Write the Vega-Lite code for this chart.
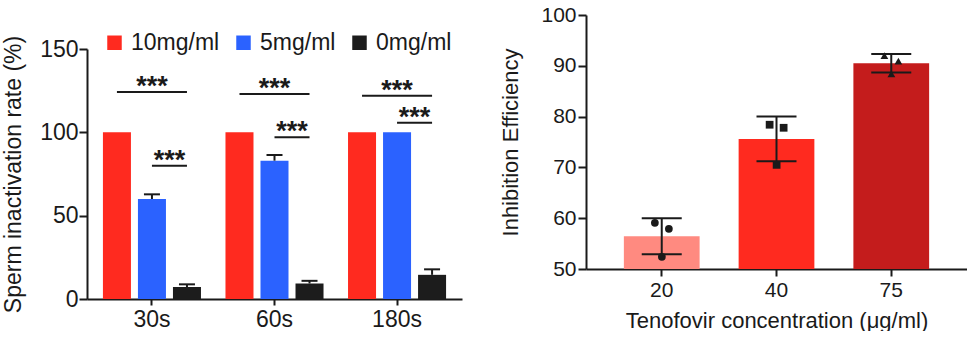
{
  "$schema": "https://vega.github.io/schema/vega-lite/v6.json",
  "padding": {"left": 2, "top": 4, "right": 0, "bottom": 0},
  "background": "white",
  "spacing": 37,
  "resolve": {"scale": {"color": "independent", "shape": "independent", "xOffset": "independent"}, "legend": {"color": "independent", "shape": "independent"}},
  "config": {
    "view": {"stroke": null},
    "font": "Liberation Sans",
    "axis": {"domainColor": "#1a1a1a", "domainWidth": 2, "tickColor": "#1a1a1a", "tickWidth": 2, "tickSize": 8, "grid": false, "labelColor": "#1a1a1a", "titleColor": "#1a1a1a", "labelFont": "Liberation Sans", "titleFont": "Liberation Sans", "titleFontWeight": "normal"}
  },
  "datasets": {
    "left": [
      {"time": "30s", "conc": "10mg/ml", "value": 100},
      {"time": "30s", "conc": "5mg/ml", "value": 60, "upper": 62.8},
      {"time": "30s", "conc": "0mg/ml", "value": 7.2, "upper": 8.8},
      {"time": "60s", "conc": "10mg/ml", "value": 100},
      {"time": "60s", "conc": "5mg/ml", "value": 83, "upper": 86.4},
      {"time": "60s", "conc": "0mg/ml", "value": 9.3, "upper": 10.9},
      {"time": "180s", "conc": "10mg/ml", "value": 100},
      {"time": "180s", "conc": "5mg/ml", "value": 100},
      {"time": "180s", "conc": "0mg/ml", "value": 14.5, "upper": 17.8}
    ],
    "brackets": [
      {"id": "30a", "time": "30s", "conc": "10mg/ml", "level": 124.2},
      {"id": "30a", "time": "30s", "conc": "0mg/ml", "level": 124.2},
      {"id": "30b", "time": "30s", "conc": "5mg/ml", "level": 80},
      {"id": "30b", "time": "30s", "conc": "0mg/ml", "level": 80},
      {"id": "60a", "time": "60s", "conc": "10mg/ml", "level": 123},
      {"id": "60a", "time": "60s", "conc": "0mg/ml", "level": 123},
      {"id": "60b", "time": "60s", "conc": "5mg/ml", "level": 97},
      {"id": "60b", "time": "60s", "conc": "0mg/ml", "level": 97},
      {"id": "180a", "time": "180s", "conc": "10mg/ml", "level": 122},
      {"id": "180a", "time": "180s", "conc": "0mg/ml", "level": 122},
      {"id": "180b", "time": "180s", "conc": "5mg/ml", "level": 105.8},
      {"id": "180b", "time": "180s", "conc": "0mg/ml", "level": 105.8}
    ],
    "starsTop": [
      {"time": "30s", "conc": "5mg/ml", "level": 124.2, "label": "***"},
      {"time": "60s", "conc": "5mg/ml", "level": 123, "label": "***"},
      {"time": "180s", "conc": "5mg/ml", "level": 122, "label": "***"}
    ],
    "starsLow": [
      {"time": "30s", "conc": "0mg/ml", "level": 80, "label": "***"},
      {"time": "60s", "conc": "0mg/ml", "level": 97, "label": "***"},
      {"time": "180s", "conc": "0mg/ml", "level": 105.8, "label": "***"}
    ],
    "rbars": [
      {"conc": "20", "mean": 56.45, "lo": 52.9, "hi": 60.0},
      {"conc": "40", "mean": 75.6, "lo": 71.2, "hi": 80.0},
      {"conc": "75", "mean": 90.5, "lo": 88.7, "hi": 92.3}
    ],
    "rpoints": [
      {"conc": "20", "value": 59.1, "jit": -1},
      {"conc": "20", "value": 57.9, "jit": 1},
      {"conc": "20", "value": 52.4, "jit": 0},
      {"conc": "40", "value": 78.4, "jit": -1},
      {"conc": "40", "value": 77.8, "jit": 1},
      {"conc": "40", "value": 70.5, "jit": 0},
      {"conc": "75", "value": 92.0, "jit": -1},
      {"conc": "75", "value": 90.9, "jit": 1},
      {"conc": "75", "value": 88.4, "jit": 0}
    ]
  },
  "hconcat": [
    {
      "width": 375,
      "height": 284,
      "layer": [
        {
          "data": {"name": "left"},
          "mark": {"type": "bar"},
          "encoding": {
            "x": {"field": "time", "type": "nominal", "sort": ["30s", "60s", "180s"], "scale": {"domain": ["30s", "60s", "180s"], "paddingInner": 0.2, "paddingOuter": 0.13}, "axis": {"title": null, "labelAngle": 0, "labelFontSize": 23, "labelPadding": 3, "tickSize": 6}},
            "xOffset": {"field": "conc", "type": "nominal", "scale": {"domain": ["10mg/ml", "5mg/ml", "0mg/ml"], "paddingInner": 0.2, "paddingOuter": 0}},
            "y": {"field": "value", "type": "quantitative", "scale": {"domain": [0, 150], "range": [284, 34], "nice": false}, "axis": {"values": [0, 50, 100, 150], "title": "Sperm inactivation rate (%)", "titleFontSize": 23, "labelFontSize": 23, "labelPadding": 1, "titlePadding": 14}},
            "color": {"field": "conc", "type": "nominal", "scale": {"domain": ["10mg/ml", "5mg/ml", "0mg/ml"], "range": ["#ff2a1f", "#2b62ff", "#1c1c1c"]}, "legend": {"title": null, "orient": "top-left", "direction": "horizontal", "offset": 16, "symbolType": "square", "symbolSize": 210, "labelFontSize": 23, "labelColor": "#1a1a1a", "columnPadding": 12, "labelOffset": 5, "padding": 0, "symbolStrokeWidth": 0, "symbolOpacity": 1}}
          }
        },
        {
          "data": {"name": "left"},
          "transform": [{"filter": "isValid(datum.upper)"}],
          "mark": {"type": "rule", "color": "#1a1a1a", "strokeWidth": 2},
          "encoding": {
            "x": {"field": "time", "type": "nominal"},
            "xOffset": {"field": "conc", "type": "nominal"},
            "y": {"field": "value", "type": "quantitative"},
            "y2": {"field": "upper"}
          }
        },
        {
          "data": {"name": "left"},
          "transform": [{"filter": "isValid(datum.upper)"}],
          "mark": {"type": "tick", "orient": "horizontal", "size": 16, "thickness": 2, "color": "#1a1a1a", "opacity": 1},
          "encoding": {
            "x": {"field": "time", "type": "nominal"},
            "xOffset": {"field": "conc", "type": "nominal"},
            "y": {"field": "upper", "type": "quantitative"}
          }
        },
        {
          "data": {"name": "brackets"},
          "mark": {"type": "line", "color": "#1a1a1a", "strokeWidth": 2},
          "encoding": {
            "x": {"field": "time", "type": "nominal"},
            "xOffset": {"field": "conc", "type": "nominal"},
            "y": {"field": "level", "type": "quantitative"},
            "detail": {"field": "id"}
          }
        },
        {
          "data": {"name": "starsTop"},
          "mark": {"type": "text", "font": "Liberation Sans", "fontWeight": "bold", "fontSize": 27, "baseline": "alphabetic", "dy": 3, "color": "#1a1a1a"},
          "encoding": {
            "x": {"field": "time", "type": "nominal"},
            "xOffset": {"field": "conc", "type": "nominal"},
            "y": {"field": "level", "type": "quantitative"},
            "text": {"field": "label"}
          }
        },
        {
          "data": {"name": "starsLow"},
          "mark": {"type": "text", "font": "Liberation Sans", "fontWeight": "bold", "fontSize": 27, "baseline": "alphabetic", "dy": 3, "dx": -17.5, "color": "#1a1a1a"},
          "encoding": {
            "x": {"field": "time", "type": "nominal"},
            "xOffset": {"field": "conc", "type": "nominal"},
            "y": {"field": "level", "type": "quantitative"},
            "text": {"field": "label"}
          }
        }
      ]
    },
    {
      "width": 381,
      "height": 254,
      "resolve": {"scale": {"xOffset": "independent"}},
      "layer": [
        {
          "data": {"name": "rbars"},
          "mark": {"type": "bar"},
          "encoding": {
            "x": {"field": "conc", "type": "nominal", "sort": ["20", "40", "75"], "scale": {"domain": ["20", "40", "75"], "paddingInner": 0.34, "paddingOuter": 0.33}, "axis": {"title": "Tenofovir concentration (μg/ml)", "labelAngle": 0, "labelFontSize": 21, "titleFontSize": 22, "tickSize": 7, "labelPadding": 3, "titlePadding": 10}},
            "y": {"field": "mean", "type": "quantitative", "scale": {"domain": [50, 100], "nice": false, "zero": false}, "axis": {"values": [50, 60, 70, 80, 90, 100], "title": "Inhibition Efficiency", "titleFontSize": 22, "labelFontSize": 21, "labelPadding": 2, "titlePadding": 18}},
            "y2": {"datum": 50},
            "color": {"field": "conc", "type": "nominal", "scale": {"domain": ["20", "40", "75"], "range": ["#ff8a80", "#ff2a1f", "#c41c1c"]}, "legend": null}
          }
        },
        {
          "data": {"name": "rbars"},
          "mark": {"type": "rule", "color": "#1a1a1a", "strokeWidth": 2},
          "encoding": {
            "x": {"field": "conc", "type": "nominal"},
            "y": {"field": "lo", "type": "quantitative"},
            "y2": {"field": "hi"}
          }
        },
        {
          "data": {"name": "rbars"},
          "mark": {"type": "tick", "orient": "horizontal", "size": 40, "thickness": 2, "color": "#1a1a1a", "opacity": 1},
          "encoding": {
            "x": {"field": "conc", "type": "nominal"},
            "y": {"field": "lo", "type": "quantitative"}
          }
        },
        {
          "data": {"name": "rbars"},
          "mark": {"type": "tick", "orient": "horizontal", "size": 40, "thickness": 2, "color": "#1a1a1a", "opacity": 1},
          "encoding": {
            "x": {"field": "conc", "type": "nominal"},
            "y": {"field": "hi", "type": "quantitative"}
          }
        },
        {
          "data": {"name": "rpoints"},
          "mark": {"type": "point", "filled": true, "color": "#1a1a1a", "opacity": 1, "size": 60},
          "encoding": {
            "x": {"field": "conc", "type": "nominal"},
            "xOffset": {"field": "jit", "type": "quantitative", "scale": {"domain": [-1, 1], "range": [31, 45]}},
            "y": {"field": "value", "type": "quantitative"},
            "shape": {"field": "conc", "type": "nominal", "scale": {"domain": ["20", "40", "75"], "range": ["circle", "square", "triangle-up"]}, "legend": null}
          }
        }
      ]
    }
  ]
}
